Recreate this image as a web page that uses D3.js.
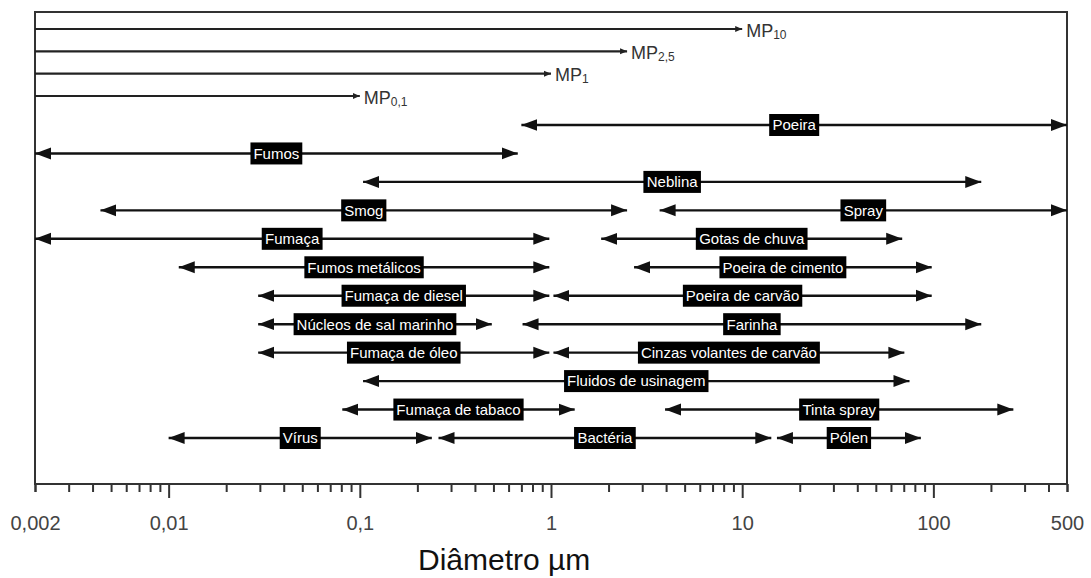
<!DOCTYPE html>
<html>
<head>
<meta charset="utf-8">
<script src="https://cdn.jsdelivr.net/npm/d3@7"></script>
<style>
  body { margin: 0; background: #fff; }
  text { font-family: "Liberation Sans", Arial, sans-serif; }
</style>
</head>
<body>
<div id="chart"></div>
<script>
// MP cut-off lines (from 0.002 up to the cut size)
const mpSubs = ["10", "2,5", "1", "0,1"];
const mpCuts = [10, 2.5, 1, 0.1];

// particle ranges, in µm, with the row each one sits on
const particleNames = [
  "Poeira", "Fumos", "Neblina", "Smog", "Spray", "Fumaça", "Gotas de chuva",
  "Fumos metálicos", "Poeira de cimento", "Fumaça de diesel", "Poeira de carvão",
  "Núcleos de sal marinho", "Farinha", "Fumaça de óleo", "Cinzas volantes de carvão",
  "Fluidos de usinagem", "Fumaça de tabaco", "Tinta spray", "Vírus", "Bactéria", "Pólen"
];
const particleMin = [0.7, 0.002, 0.104, 0.0044, 3.7, 0.002, 1.83, 0.0113, 2.72, 0.0294, 1.03,
  0.0294, 0.71, 0.0294, 1.03, 0.104, 0.081, 3.95, 0.01, 0.258, 15.2];
const particleMax = [500, 0.67, 178, 2.5, 500, 0.98, 68.7, 0.98, 98, 0.98, 98,
  0.49, 178, 0.98, 70.5, 75, 1.33, 262, 0.238, 14.2, 86];
const particleRow = [0, 1, 2, 3, 3, 4, 4, 5, 5, 6, 6, 7, 7, 8, 8, 9, 10, 10, 11, 11, 11];

// axis
const tickValues = [0.002, 0.01, 0.1, 1, 10, 100, 500];
const tickLabels = ["0,002", "0,01", "0,1", "1", "10", "100", "500"];
const axisTitle = "Diâmetro µm";

const W = 1091, H = 578;
const plot = { left: 35, right: 1067, top: 12, bottom: 484 };

const svg = d3.select("#chart").append("svg")
  .attr("width", W)
  .attr("height", H);

const x = d3.scaleLog()
  .domain([0.002, 500])
  .range([plot.left, plot.right]);

const yMp = d3.scalePoint()
  .domain(d3.range(mpCuts.length))
  .range([29, 96]);

const yRow = d3.scalePoint()
  .domain(d3.range(12))
  .range([125, 438]);

// arrow markers
const defs = svg.append("defs");
defs.append("marker")
  .attr("id", "arrow")
  .attr("markerUnits", "userSpaceOnUse")
  .attr("viewBox", "0 -7 17 14")
  .attr("refX", 16)
  .attr("refY", 0)
  .attr("markerWidth", 17)
  .attr("markerHeight", 14)
  .attr("orient", "auto-start-reverse")
  .append("path")
  .attr("d", "M0,-6L16,0L0,6Z")
  .attr("fill", "#111");

defs.append("marker")
  .attr("id", "arrowSmall")
  .attr("markerUnits", "userSpaceOnUse")
  .attr("viewBox", "0 -4 8 8")
  .attr("refX", 7)
  .attr("refY", 0)
  .attr("markerWidth", 8)
  .attr("markerHeight", 8)
  .attr("orient", "auto")
  .append("path")
  .attr("d", "M0,-3L7,0L0,3Z")
  .attr("fill", "#222");

// axis ticks
const minorTicks = x.ticks().filter(d => tickValues.indexOf(d) < 0 || d === 0.002 || d === 500);
const axisG = svg.append("g")
  .attr("transform", `translate(0,${plot.bottom})`);

axisG.append("g")
  .call(d3.axisBottom(x).tickValues(minorTicks).tickSize(8).tickFormat(""))
  .call(g => g.select(".domain").remove())
  .selectAll("line")
  .attr("stroke", "#333")
  .attr("stroke-width", 2);

axisG.append("g")
  .call(d3.axisBottom(x)
    .tickValues(tickValues)
    .tickSize(14)
    .tickPadding(18)
    .tickFormat((d, i) => tickLabels[i]))
  .call(g => g.select(".domain").remove())
  .call(g => g.selectAll(".tick line")
    .attr("stroke", "#333")
    .attr("stroke-width", 2)
    .attr("y2", d => (d === 0.002 || d === 500) ? 8 : 14))
  .call(g => g.selectAll(".tick text")
    .attr("fill", "#444")
    .attr("font-size", "20px")
    .attr("font-family", "'Liberation Sans', Arial, sans-serif"));

svg.append("text")
  .attr("x", 418)
  .attr("y", 570)
  .attr("font-size", "30px")
  .attr("fill", "#111")
  .text(axisTitle);

// frame
svg.append("rect")
  .attr("x", plot.left)
  .attr("y", plot.top)
  .attr("width", plot.right - plot.left)
  .attr("height", plot.bottom - plot.top)
  .attr("fill", "none")
  .attr("stroke", "#333")
  .attr("stroke-width", 2);

// MP lines
const mp = svg.append("g").selectAll("g")
  .data(mpCuts)
  .join("g");

mp.append("line")
  .attr("x1", plot.left)
  .attr("x2", d => x(d))
  .attr("y1", (d, i) => yMp(i))
  .attr("y2", (d, i) => yMp(i))
  .attr("stroke", "#222")
  .attr("stroke-width", 2.2)
  .attr("marker-end", "url(#arrowSmall)");

const mpText = mp.append("text")
  .attr("x", d => x(d) + 4)
  .attr("y", (d, i) => yMp(i) + 7.5)
  .attr("fill", "#333")
  .attr("font-size", "18px");
mpText.append("tspan").text("MP");
mpText.append("tspan")
  .attr("font-size", "12px")
  .attr("dy", 2)
  .text((d, i) => mpSubs[i]);

// particle ranges
const particles = particleNames.map((name, i) => ({
  name, min: particleMin[i], max: particleMax[i], row: particleRow[i]
}));

const pg = svg.append("g").selectAll("g")
  .data(particles)
  .join("g");

pg.append("line")
  .attr("x1", d => x(d.min))
  .attr("x2", d => x(d.max))
  .attr("y1", d => yRow(d.row))
  .attr("y2", d => yRow(d.row))
  .attr("stroke", "#111")
  .attr("stroke-width", 2.4)
  .attr("marker-start", "url(#arrow)")
  .attr("marker-end", "url(#arrow)");

const lab = pg.append("g")
  .attr("transform", d => `translate(${(x(d.min) + x(d.max)) / 2},${yRow(d.row)})`);

const labRect = lab.append("rect").attr("fill", "#000");
const labText = lab.append("text")
  .attr("text-anchor", "middle")
  .attr("dy", "0.36em")
  .attr("fill", "#fff")
  .attr("font-size", "15px")
  .text(d => d.name);

labText.each(function() {
  const b = this.getBBox();
  d3.select(this.previousSibling)
    .attr("x", -b.width / 2 - 3)
    .attr("y", -11)
    .attr("width", b.width + 6)
    .attr("height", 22);
});
</script>
</body>
</html>
